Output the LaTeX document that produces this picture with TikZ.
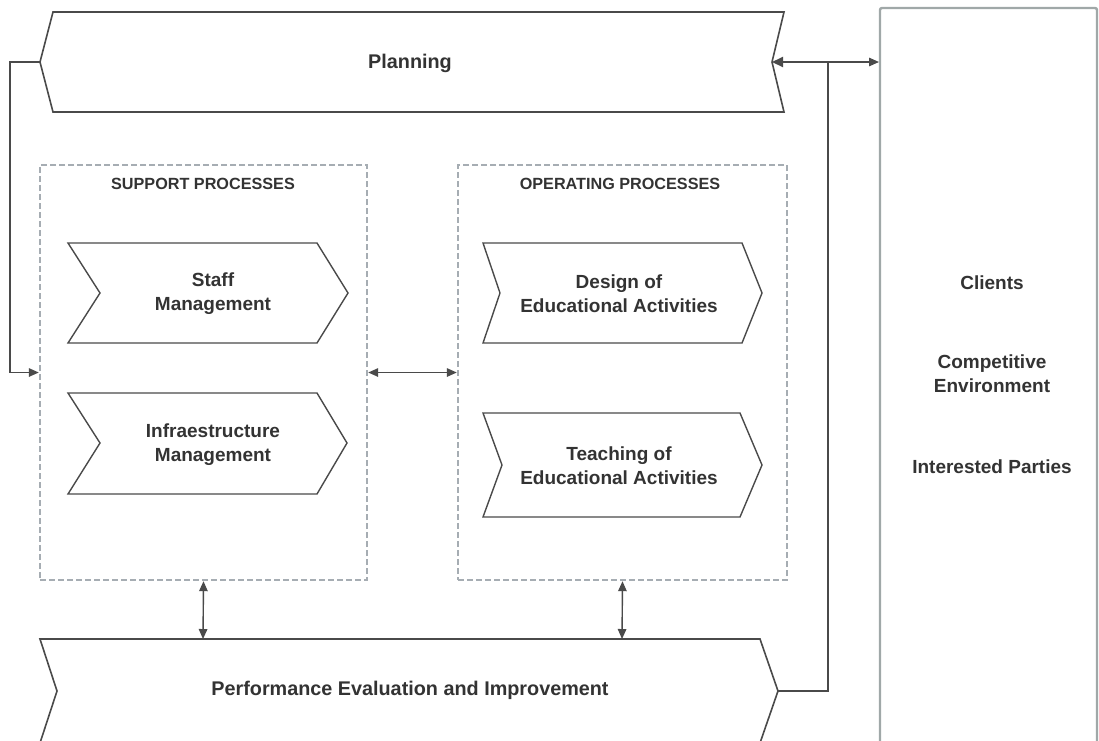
\documentclass[tikz,border=0pt]{standalone}
\usepackage{fontspec}
\setmainfont{Liberation Sans}
\usetikzlibrary{arrows.meta}
\definecolor{ink}{HTML}{333333}
\definecolor{edge}{HTML}{4A4A4A}
\definecolor{dash}{HTML}{A6ADB3}
\definecolor{frame}{HTML}{A0A8A8}
\tikzset{
  chev/.style={draw=edge, line width=1.6pt, fill=white, line join=miter},
  lbl/.style={font=\bfseries\fontsize{19}{24}\selectfont, text=ink, align=center, inner sep=0pt},
  biglbl/.style={lbl, font=\bfseries\fontsize{19.8}{24}\selectfont},
  hdr/.style={font=\bfseries\fontsize{16.2}{18}\selectfont, text=ink, inner sep=0pt},
  grp/.style={draw=dash, line width=2.4pt, dash pattern=on 6pt off 3pt, fill=none},
  conn/.style={draw=edge, line width=1.4pt},
  tip/.style={-{Triangle[length=10pt,width=8.5pt]}},
  tips/.style={{Triangle[length=10pt,width=8.5pt]}-{Triangle[length=10pt,width=8.5pt]}},
}
\begin{document}
\begin{tikzpicture}[x=1pt,y=-1pt]
\useasboundingbox (0,0) rectangle (1099,740);
\clip (0,0) rectangle (1099,740);
\fill[white] (0,0) rectangle (1099,740);

% Clients frame
\draw[draw=frame, line width=2.4pt, rounded corners=2pt] (880,750) -- (880,8) -- (1097,8) -- (1097,750);
\coordinate (clientsW) at (879,62);
\node[lbl] (clients) at (992,283) {Clients};
\node[lbl] (competitive) at (992,374) {Competitive\\Environment};
\node[lbl] (parties) at (992,467) {Interested Parties};

% Planning (left-pointing chevron)
\path[chev] (53,12) -- (784,12) -- (772,62) -- (784,112) -- (53,112) -- (40,62) -- cycle;
\coordinate (planL) at (40,62);
\coordinate (planR) at (772,62);
\node[biglbl] (planning) at (410,63) {Planning};

% Performance (right-pointing chevron)
\path[chev] (40,639) -- (760,639) -- (778,691) -- (760,743) -- (40,743) -- (57,691) -- cycle;
\coordinate (perfR) at (778,691);
\coordinate (perfTL) at (203,639);
\coordinate (perfTR) at (622,639);
\node[biglbl] (perf) at (410,690) {Performance Evaluation and Improvement};

% Group boxes
\node[grp, minimum width=327pt, minimum height=415pt, inner sep=0pt] (support) at (203.5,372.5) {};
\node[grp, minimum width=329pt, minimum height=415pt, inner sep=0pt] (operating) at (622.5,372.5) {};
\node[hdr] (supportHdr) at (203,184) {SUPPORT PROCESSES};
\node[hdr] (operatingHdr) at (620,184) {OPERATING PROCESSES};

% Inner chevrons
\path[chev, line width=1.4pt] (68,243) -- (317,243) -- (348,293) -- (317,343) -- (68,343) -- (100,293) -- cycle;
\node[lbl] (staff) at (213,294) {Staff\\Management};
\path[chev, line width=1.4pt] (68,393) -- (317,393) -- (347,443) -- (317,494) -- (68,494) -- (100,443) -- cycle;
\node[lbl] (infra) at (213,445) {Infraestructure\\Management};
\path[chev, line width=1.4pt] (483,243) -- (742,243) -- (762,293) -- (742,343) -- (483,343) -- (500,293) -- cycle;
\node[lbl] (design) at (619,294) {Design of\\Educational Activities};
\path[chev, line width=1.4pt] (483,413) -- (740,413) -- (762,465) -- (740,517) -- (483,517) -- (502,465) -- cycle;
\node[lbl] (teaching) at (619,466) {Teaching of\\Educational Activities};

% Connectors
\coordinate (leftTurn) at (10,62);
\draw[conn, tip] (planL) -- (leftTurn) |- (support.west);
\draw[conn, tips] (support.east) -- (operating.west);
\draw[conn, tips] (support.south) -- (perfTL);
\draw[conn, tips] (operating.south) -- (perfTR);
\coordinate (rightJoin) at (828,62);
\draw[conn, line width=2.2pt, {Triangle[length=11pt,width=10pt]}-] (planR) -- (rightJoin);
\draw[conn, tip] (rightJoin) -- (clientsW);
\draw[conn] (rightJoin) |- (perfR);
\end{tikzpicture}
\end{document}
